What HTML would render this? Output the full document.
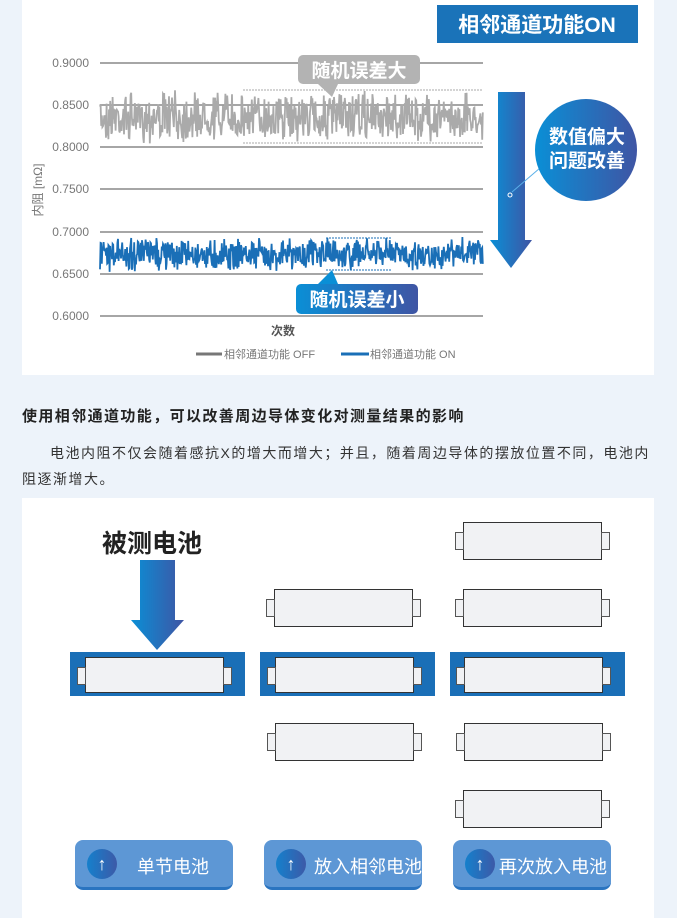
<!DOCTYPE html>
<html><head><meta charset="utf-8"><style>
body{margin:0;width:677px;height:918px;background:#edf3fa;font-family:"Liberation Sans","Noto Sans CJK SC",sans-serif;position:relative;overflow:hidden}
.p{position:absolute;background:#fff}
.t{position:absolute;white-space:nowrap}
.bat{position:absolute;width:139px;height:36px;background:#f1f2f4;border:1.5px solid #333;box-sizing:border-box}
.bat:before{content:"";position:absolute;left:-9px;top:9px;width:7px;height:16px;border:1px solid #555;background:#f1f2f4}
.bat:after{content:"";position:absolute;right:-9px;top:9px;width:7px;height:16px;border:1px solid #555;background:#f1f2f4}
.hl{position:absolute;height:44px;width:175px;background:#1a6fb7;top:652px}
.btn{position:absolute;top:840px;width:158px;height:50px;border-radius:8px;background:#5d97d5;border-bottom:3px solid #2a74c0;box-sizing:border-box;color:#fff;font-size:18px}
.btn i{position:absolute;left:12px;top:9px;width:30px;height:30px;border-radius:50%;background:linear-gradient(90deg,#1580cc,#3c5aa8);color:#fff;font-style:normal;font-weight:bold;text-align:center;line-height:30px;font-size:18px}
.btn span{position:absolute;top:13px}
</style></head><body>
<div class="p" style="left:22px;top:0;width:632px;height:375px"></div>
<div class="p" style="left:22px;top:498px;width:632px;height:420px"></div>

<svg style="position:absolute;left:0;top:0" width="677" height="375">
<defs><linearGradient id="g" x1="0" x2="1"><stop offset="0" stop-color="#0a8fd6"/><stop offset="1" stop-color="#3f55a4"/></linearGradient></defs>
<g stroke="#888" stroke-width="1.5">
<line x1="100" x2="483" y1="63" y2="63"/><line x1="100" x2="483" y1="105" y2="105"/><line x1="100" x2="483" y1="147" y2="147"/><line x1="100" x2="483" y1="189" y2="189"/><line x1="100" x2="483" y1="232" y2="232"/><line x1="100" x2="483" y1="274" y2="274"/><line x1="100" x2="483" y1="316" y2="316"/></g>
<g font-size="12" fill="#777" text-anchor="end"><text x="89" y="67">0.9000</text><text x="89" y="109">0.8500</text><text x="89" y="151">0.8000</text><text x="89" y="193">0.7500</text><text x="89" y="236">0.7000</text><text x="89" y="278">0.6500</text><text x="89" y="320">0.6000</text></g>
<text x="42" y="190" font-size="12" fill="#777" transform="rotate(-90 42 190)" text-anchor="middle">内阻 [mΩ]</text>
<g stroke="#aaa" stroke-dasharray="2,1" stroke-width="1"><line x1="243" x2="483" y1="90" y2="90"/><line x1="243" x2="483" y1="143" y2="143"/></g>
<g stroke="#1a6fb7" stroke-dasharray="2,1" stroke-width="1"><line x1="326" x2="392" y1="238" y2="238"/><line x1="326" x2="392" y1="270" y2="270"/></g>
<polyline id="n1" fill="none" stroke="#aaaaaa" stroke-width="1.8"/>
<polyline id="n2" fill="none" stroke="#1a6fb7" stroke-width="1.8"/>
<text x="283" y="335" font-size="12" font-weight="bold" fill="#555" text-anchor="middle">次数</text>
<line x1="196" x2="222" y1="354" y2="354" stroke="#777" stroke-width="3"/>
<text x="224" y="358" font-size="11" fill="#777">相邻通道功能 OFF</text>
<line x1="341" x2="369" y1="354" y2="354" stroke="#1a6fb7" stroke-width="3"/>
<text x="370" y="358" font-size="11" fill="#777">相邻通道功能 ON</text>
<rect x="437" y="5" width="201" height="38" fill="#1a73b9"/>
<text x="537" y="32" font-size="21" font-weight="bold" fill="#fff" text-anchor="middle">相邻通道功能ON</text>
<rect x="298" y="55" width="122" height="29" rx="5" fill="#b3b3b3"/>
<polygon points="318,84 332,97 338,84" fill="#b3b3b3"/>
<text x="359" y="77" font-size="19" font-weight="bold" fill="#fff" text-anchor="middle">随机误差大</text>
<rect x="296" y="284" width="122" height="30" rx="5" fill="url(#g)"/>
<polygon points="318,284 332,270 338,284" fill="#0a8fd6"/>
<text x="357" y="306" font-size="19" font-weight="bold" fill="#fff" text-anchor="middle">随机误差小</text>
<polygon points="498,92 525,92 525,240 532,240 511,268 490,240 498,240" fill="url(#g)"/>
<circle cx="510" cy="195" r="2" fill="none" stroke="#fff"/>
<line x1="512" y1="192" x2="540" y2="168" stroke="#5ab0e8" stroke-width="1"/>
<circle cx="586" cy="150" r="51" fill="url(#g)"/>
<text x="587" y="143" font-size="19" font-weight="bold" fill="#fff" text-anchor="middle">数值偏大</text>
<text x="587" y="167" font-size="19" font-weight="bold" fill="#fff" text-anchor="middle">问题改善</text>
</svg>
<script>
(function(){var s=7;function r(){s=(s*16807)%2147483647;return s/2147483647;}
function mk(id,c,a){var p=[];for(var x=100;x<=483;x+=0.6){var v=c+(r()-0.5)*a+(r()-0.5)*a*0.5;p.push(x.toFixed(1)+","+v.toFixed(1));}document.getElementById(id).setAttribute("points",p.join(" "));}
mk("n1",117,36);mk("n2",254,24);})();
</script>

<div class="t" style="left:22px;top:405px;font-size:15px;font-weight:bold;color:#222;letter-spacing:1.4px">使用相邻通道功能，可以改善周边导体变化对测量结果的影响</div>
<div class="t" style="left:50px;top:443px;font-size:14px;color:#333;letter-spacing:1.5px">电池内阻不仅会随着感抗X的增大而增大；并且，随着周边导体的摆放位置不同，电池内</div>
<div class="t" style="left:22px;top:469px;font-size:14px;color:#333;letter-spacing:1.5px">阻逐渐增大。</div>

<div class="t" style="left:102px;top:524px;font-size:25px;font-weight:bold;color:#222">被测电池</div>
<svg style="position:absolute;left:0;top:0" width="677" height="918"><defs><linearGradient id="g2" x1="0" x2="1"><stop offset="0" stop-color="#0a8fd6"/><stop offset="1" stop-color="#3f55a4"/></linearGradient></defs>
<polygon points="140,560 175,560 175,620 184,620 157,650 131,620 140,620" fill="url(#g2)"/></svg>

<div class="hl" style="left:70px"></div><div class="hl" style="left:260px"></div><div class="hl" style="left:450px"></div>
<div class="bat" style="left:85px;top:657px"></div>
<div class="bat" style="left:274px;top:589px;height:38px"></div>
<div class="bat" style="left:275px;top:657px"></div>
<div class="bat" style="left:275px;top:723px;height:38px"></div>
<div class="bat" style="left:463px;top:522px;height:38px"></div>
<div class="bat" style="left:463px;top:589px;height:38px"></div>
<div class="bat" style="left:464px;top:657px"></div>
<div class="bat" style="left:464px;top:723px;height:38px"></div>
<div class="bat" style="left:463px;top:790px;height:38px"></div>

<div class="btn" style="left:75px"><i>↑</i><span style="left:62px">单节电池</span></div>
<div class="btn" style="left:264px"><i>↑</i><span style="left:50px">放入相邻电池</span></div>
<div class="btn" style="left:453px"><i>↑</i><span style="left:46px">再次放入电池</span></div>
</body></html>
